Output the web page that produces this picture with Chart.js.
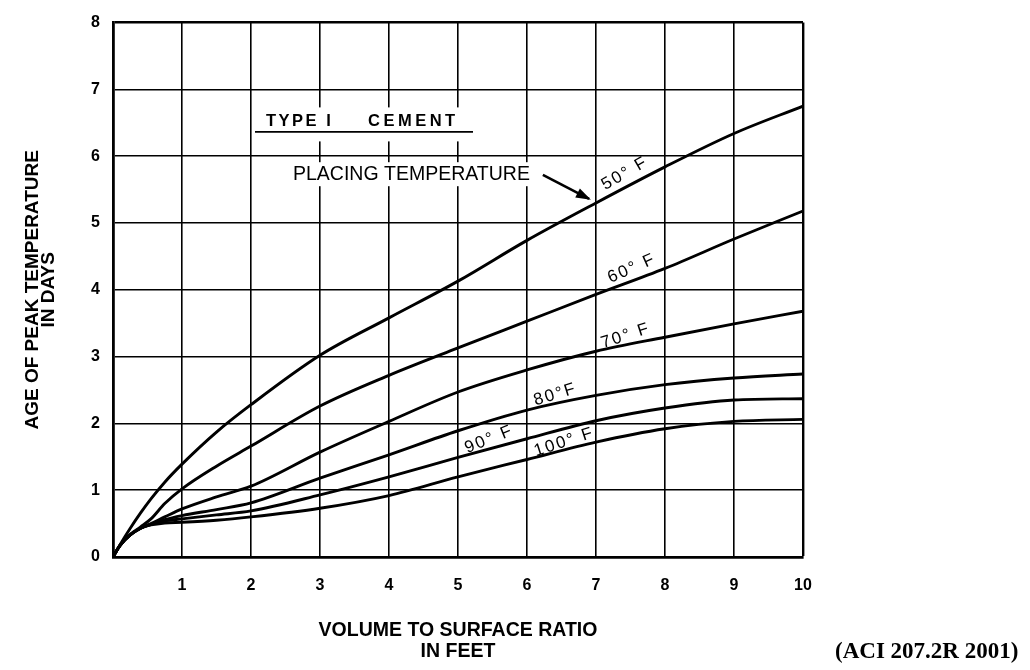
<!DOCTYPE html>
<html>
<head>
<meta charset="utf-8">
<script src="https://cdn.jsdelivr.net/npm/chart.js@4"></script>
<style>
html,body{margin:0;padding:0;background:#fff;}
#wrap{width:1030px;height:670px;position:relative;}
</style>
</head>
<body>
<div id="wrap"><canvas id="c" width="1030" height="670"></canvas></div>
<script>
// ---- data ----
const ratioFeet = [0, 0.1, 0.25, 0.4, 0.55, 0.75, 1, 1.5, 2, 3, 4, 5, 6, 7, 8, 9, 10];
const age50F  = [0, 0.18, 0.43, 0.66, 0.87, 1.12, 1.39, 1.87, 2.28, 3.02, 3.58, 4.13, 4.74, 5.30, 5.84, 6.34, 6.75];
const age60F  = [0, 0.17, 0.34, 0.45, 0.57, 0.80, 1.02, 1.36, 1.66, 2.26, 2.72, 3.13, 3.53, 3.93, 4.32, 4.76, 5.18];
const age70F  = [0, 0.17, 0.33, 0.43, 0.50, 0.60, 0.72, 0.90, 1.06, 1.57, 2.03, 2.47, 2.80, 3.08, 3.29, 3.49, 3.68];
const age80F  = [0, 0.17, 0.33, 0.43, 0.49, 0.56, 0.62, 0.71, 0.81, 1.18, 1.53, 1.89, 2.20, 2.42, 2.58, 2.68, 2.74];
const age90F  = [0, 0.17, 0.33, 0.43, 0.49, 0.54, 0.57, 0.63, 0.69, 0.93, 1.20, 1.49, 1.77, 2.04, 2.23, 2.35, 2.37];
const age100F = [0, 0.17, 0.33, 0.43, 0.48, 0.51, 0.52, 0.55, 0.60, 0.73, 0.92, 1.20, 1.46, 1.72, 1.92, 2.03, 2.06];

const seriesNames = ['50° F', '60° F', '70° F', '80°F', '90° F', '100° F'];
const seriesValues = [age50F, age60F, age70F, age80F, age90F, age100F];

// curve label anchors in data units
const labelX = [7.42, 7.52, 7.43, 6.41, 5.45, 6.54];
const labelY = [5.74, 4.32, 3.31, 2.43, 1.76, 1.72];
const labelAngle = [-30, -24, -18, -17, -22, -18];

const xTicks = [0,1,2,3,4,5,6,7,8,9,10];
const yTicks = [0,1,2,3,4,5,6,7,8];

const xTitle = ['VOLUME TO SURFACE RATIO', 'IN FEET'];
const yTitle = ['AGE OF PEAK TEMPERATURE', 'IN DAYS'];
const noteType = ['TYPE I', 'CEMENT'];
const notePlacing = 'PLACING TEMPERATURE';
const sourceNote = '(ACI 207.2R 2001)';

const SANS = '"Liberation Sans", Arial, Helvetica, sans-serif';
const SERIF = '"Liberation Serif", "Times New Roman", serif';

const datasets = seriesValues.map((vals, i) => ({
  label: seriesNames[i],
  data: ratioFeet.map((x, j) => ({x: x, y: vals[j]})),
  borderColor: '#000',
  borderWidth: 2.9,
  pointRadius: 0,
  fill: false,
  cubicInterpolationMode: 'monotone'
}));

const annotations = {
  id: 'annotations',
  afterDraw(chart) {
    const {ctx, chartArea: a, scales: {x, y}} = chart;
    const midX = (a.left + a.right) / 2;
    const midY = (a.top + a.bottom) / 2;
    ctx.save();
    ctx.fillStyle = '#000';
    ctx.strokeStyle = '#000';

    // axis titles
    ctx.font = 'bold 19.5px ' + SANS;
    ctx.textAlign = 'center';
    ctx.textBaseline = 'alphabetic';
    ctx.fillText(xTitle[0], midX, a.bottom + 79);
    ctx.fillText(xTitle[1], midX, a.bottom + 100);

    ctx.save();
    ctx.translate(a.left - 82, midY);
    ctx.rotate(-Math.PI / 2);
    ctx.font = 'bold 19px ' + SANS;
    ctx.fillText(yTitle[0], 0, 7);
    ctx.fillText(yTitle[1], 0, 22.5);
    ctx.restore();

    // TYPE I CEMENT note
    const tx = x.getPixelForValue(2.0);
    const ty = y.getPixelForValue(7.0);
    ctx.fillStyle = '#fff';
    ctx.fillRect(tx + 3, ty + 18, 221, 34);
    ctx.fillStyle = '#000';
    ctx.textAlign = 'left';
    ctx.font = 'bold 16.5px ' + SANS;
    if ('letterSpacing' in ctx) ctx.letterSpacing = '2.5px';
    ctx.fillText(noteType[0], tx + 15, ty + 37);
    if ('letterSpacing' in ctx) ctx.letterSpacing = '3.5px';
    ctx.fillText(noteType[1], tx + 117, ty + 37);
    if ('letterSpacing' in ctx) ctx.letterSpacing = '0px';
    ctx.lineWidth = 1.6;
    ctx.beginPath();
    ctx.moveTo(tx + 4, ty + 42.5);
    ctx.lineTo(tx + 222, ty + 42.5);
    ctx.stroke();

    // PLACING TEMPERATURE note
    const py = y.getPixelForValue(6.0);
    ctx.fillStyle = '#fff';
    ctx.fillRect(tx + 37, py + 6, 250, 24);
    ctx.fillStyle = '#000';
    ctx.font = '19.5px ' + SANS;
    ctx.fillText(notePlacing, tx + 42, py + 24);

    // arrow
    const ax0 = x.getPixelForValue(6.23), ay0 = y.getPixelForValue(5.72);
    const ax1 = x.getPixelForValue(6.90), ay1 = y.getPixelForValue(5.36);
    ctx.lineWidth = 2.6;
    ctx.beginPath();
    ctx.moveTo(ax0, ay0);
    ctx.lineTo(ax1, ay1);
    ctx.stroke();
    const ang = Math.atan2(ay1 - ay0, ax1 - ax0);
    const hl = 13, hw = 5;
    ctx.beginPath();
    ctx.moveTo(ax1 + 2 * Math.cos(ang), ay1 + 2 * Math.sin(ang));
    ctx.lineTo(ax1 - hl * Math.cos(ang) + hw * Math.sin(ang), ay1 - hl * Math.sin(ang) - hw * Math.cos(ang));
    ctx.lineTo(ax1 - hl * Math.cos(ang) - hw * Math.sin(ang), ay1 - hl * Math.sin(ang) + hw * Math.cos(ang));
    ctx.closePath();
    ctx.fill();

    // curve labels
    ctx.font = '17px ' + SANS;
    ctx.textAlign = 'center';
    ctx.textBaseline = 'middle';
    seriesNames.forEach((name, i) => {
      ctx.save();
      ctx.translate(x.getPixelForValue(labelX[i]), y.getPixelForValue(labelY[i]));
      ctx.rotate(labelAngle[i] * Math.PI / 180);
      if ('letterSpacing' in ctx) ctx.letterSpacing = '2px';
      ctx.fillText(name, 0, 0);
      ctx.restore();
    });

    // source note
    ctx.textAlign = 'left';
    ctx.textBaseline = 'alphabetic';
    if ('letterSpacing' in ctx) ctx.letterSpacing = '0px';
    ctx.font = 'bold 23px ' + SERIF;
    ctx.fillText(sourceNote, 835, 658);
    ctx.restore();
  }
};

const edgeWidth = (max) => (c) => (c.tick && c.tick.value === max ? 2.4 : 1.6);

new Chart(document.getElementById('c'), {
  type: 'line',
  data: { datasets: datasets },
  options: {
    responsive: false,
    animation: false,
    events: [],
    layout: { padding: { left: 0, right: 227, top: 13, bottom: 0 } },
    plugins: { legend: { display: false }, tooltip: { enabled: false }, title: { display: false } },
    scales: {
      x: {
        type: 'linear',
        min: xTicks[0],
        max: xTicks[xTicks.length - 1],
        afterBuildTicks: (s) => { s.ticks = xTicks.map(v => ({value: v})); },
        afterFit: (s) => { s.height = 113; },
        ticks: {
          color: '#000',
          padding: 19,
          maxRotation: 0,
          font: { family: SANS, size: 16, weight: 'bold' },
          callback: (v) => (v === 0 ? '' : String(v))
        },
        grid: { color: '#000', lineWidth: edgeWidth(10), drawTicks: false },
        border: { display: true, color: '#000', width: 2.8 }
      },
      y: {
        type: 'linear',
        min: yTicks[0],
        max: yTicks[yTicks.length - 1],
        afterBuildTicks: (s) => { s.ticks = yTicks.map(v => ({value: v})); },
        afterFit: (s) => { s.width = 113; },
        ticks: {
          color: '#000',
          padding: 13,
          font: { family: SANS, size: 16, weight: 'bold' },
          callback: (v) => String(v)
        },
        grid: { color: '#000', lineWidth: edgeWidth(8), drawTicks: false },
        border: { display: true, color: '#000', width: 2.8 }
      }
    }
  },
  plugins: [annotations]
});
</script>
</body>
</html>
